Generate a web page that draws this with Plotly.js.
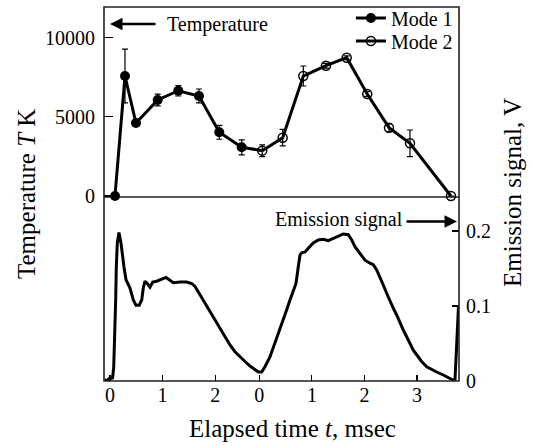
<!DOCTYPE html>
<html>
<head>
<meta charset="utf-8">
<script src="https://cdn.plot.ly/plotly-3.0.1.min.js"></script>
<style>html,body{margin:0;padding:0;background:#fff;}#chart{width:533px;height:445px;}</style>
</head>
<body>
<div id="chart"></div>
<script>
// ---- data ----
// time offset (ms) at which Mode 2 time axis restarts at 0
const mode2Offset = 2.838;

const xTickValsMode1 = [0, 1, 2];
const xTickValsMode2 = [0, 1, 2, 3];
const xTickText = ["0", "1", "2", "0", "1", "2", "3"];

const mode1Time = [0.095, 0.285, 0.494, 0.907, 1.298, 1.692, 2.078, 2.504];
const mode1Temp = [0, 7570, 4600, 6060, 6640, 6310, 4020, 3070];
const mode1Err  = [0, 1700, 0, 370, 330, 440, 440, 470];

const mode2Time = [0.057, 0.445, 0.837, 1.268, 1.662, 2.053, 2.466, 2.865, 3.644];
const mode2Temp = [2860, 3680, 7570, 8220, 8725, 6435, 4310, 3325, 0];
const mode2Err  = [370, 520, 630, 150, 120, 150, 250, 840, 0];

const emis1Time = [-0.105, -0.063, -0.019, 0.019, 0.048, 0.070, 0.095, 0.108, 0.120, 0.139, 0.171, 0.209, 0.266, 0.304, 0.380, 0.443, 0.494, 0.557, 0.603, 0.633, 0.665, 0.709, 0.760, 0.812, 0.888, 0.983, 1.065, 1.127, 1.203, 1.331, 1.458, 1.553, 1.616, 1.711, 1.806, 1.901, 1.996, 2.091, 2.186, 2.281, 2.376, 2.471, 2.567, 2.662, 2.757, 2.820];
const emis1Sig  = [0.002, 0.000, 0.003, 0.004, 0.004, 0.017, 0.064, 0.108, 0.152, 0.184, 0.198, 0.184, 0.152, 0.135, 0.124, 0.108, 0.101, 0.101, 0.108, 0.124, 0.133, 0.130, 0.125, 0.132, 0.133, 0.136, 0.138, 0.135, 0.131, 0.132, 0.132, 0.130, 0.126, 0.115, 0.104, 0.092, 0.081, 0.070, 0.059, 0.048, 0.039, 0.032, 0.026, 0.020, 0.015, 0.012];

const emis2Time = [0.046, 0.108, 0.203, 0.298, 0.394, 0.456, 0.521, 0.584, 0.646, 0.698, 0.741, 0.774, 0.806, 0.869, 0.932, 1.027, 1.122, 1.217, 1.312, 1.407, 1.502, 1.597, 1.692, 1.757, 1.819, 1.914, 2.010, 2.105, 2.167, 2.232, 2.294, 2.357, 2.422, 2.484, 2.547, 2.612, 2.675, 2.738, 2.802, 2.865, 2.928, 2.992, 3.087, 3.183, 3.278, 3.373, 3.498, 3.625, 3.720, 3.787];
const emis2Sig  = [0.012, 0.019, 0.032, 0.050, 0.069, 0.081, 0.095, 0.108, 0.119, 0.130, 0.152, 0.168, 0.171, 0.172, 0.177, 0.184, 0.188, 0.189, 0.187, 0.190, 0.194, 0.196, 0.195, 0.188, 0.179, 0.170, 0.161, 0.157, 0.155, 0.148, 0.139, 0.128, 0.117, 0.106, 0.097, 0.088, 0.077, 0.068, 0.059, 0.050, 0.041, 0.035, 0.026, 0.019, 0.015, 0.012, 0.008, 0.004, 0.000, 0.099];

const tempTicks = [0, 5000, 10000];
const emisTicks = [0, 0.1, 0.2];
const emisTickText = ["0", "0.1", "0.2"];

// ---- build ----
const shift = a => a.map(v => v + mode2Offset);
const FONT = "'Liberation Serif', 'Times New Roman', Times, serif";

const m2x = shift(mode2Time);
const emisX = emis1Time.concat(shift(emis2Time));
const emisY = emis1Sig.concat(emis2Sig);

const traces = [
  { // emission signal
    x: emisX, y: emisY, xaxis: "x", yaxis: "y2", mode: "lines",
    line: {color: "#000", width: 3}, showlegend: false, hoverinfo: "skip"
  },
  { // connector between modes
    x: [mode1Time[mode1Time.length - 1], m2x[0]],
    y: [mode1Temp[mode1Temp.length - 1], mode2Temp[0]],
    xaxis: "x", yaxis: "y", mode: "lines",
    line: {color: "#000", width: 3}, showlegend: false, hoverinfo: "skip"
  },
  {
    name: "Mode 1", legend: "legend", x: mode1Time, y: mode1Temp, xaxis: "x", yaxis: "y",
    mode: "lines+markers", cliponaxis: false,
    line: {color: "#000", width: 3},
    marker: {symbol: "circle", size: 10, color: "#000"},
    error_y: {type: "data", array: mode1Err, visible: true, color: "#000", thickness: 1.2, width: 3}
  },
  {
    name: "Mode 2", legend: "legend2", x: m2x, y: mode2Temp, xaxis: "x", yaxis: "y",
    mode: "lines+markers", cliponaxis: false,
    line: {color: "#000", width: 3},
    marker: {symbol: "circle-open", size: 9, color: "#000", line: {width: 1.5, color: "#000"}},
    error_y: {type: "data", array: mode2Err, visible: true, color: "#000", thickness: 1.2, width: 3}
  }
];

const tickVals = xTickValsMode1.concat(shift(xTickValsMode2));
const legendFont = {family: FONT, size: 20, color: "#000"};

const layout = {
  width: 533, height: 445,
  margin: {l: 104, r: 74, t: 7, b: 64, autoexpand: false},
  paper_bgcolor: "#fff", plot_bgcolor: "#fff",
  font: {family: FONT, size: 20, color: "#000"},
  showlegend: true,
  legend: {
    x: 0.997, xanchor: "right", y: 0.9706, yanchor: "middle",
    bgcolor: "rgba(0,0,0,0)", font: legendFont, itemwidth: 30
  },
  legend2: {
    x: 0.997, xanchor: "right", y: 0.9091, yanchor: "middle",
    bgcolor: "rgba(0,0,0,0)", font: legendFont, itemwidth: 30
  },
  xaxis: {
    domain: [0, 1], anchor: "y2", range: [-0.114, 6.635],
    tickvals: tickVals, ticktext: xTickText,
    ticks: "inside", ticklen: 6, tickwidth: 1.2, tickcolor: "#000",
    showgrid: false, zeroline: false, showline: false,
    tickfont: {family: FONT, size: 20}
  },
  yaxis: {
    domain: [0.492, 1], anchor: "x", range: [-63, 11924],
    tickvals: tempTicks, ticktext: tempTicks.map(String),
    ticks: "inside", ticklen: 9, tickwidth: 1.2, tickcolor: "#000",
    showgrid: false, zeroline: false, showline: false,
    tickfont: {family: FONT, size: 20}, ticklabelstandoff: 8
  },
  yaxis2: {
    domain: [0, 0.492], anchor: "x", side: "right", range: [0, 0.2453],
    tickvals: emisTicks, ticktext: emisTickText,
    ticks: "inside", ticklen: 7, tickwidth: 1.2, tickcolor: "#000",
    showgrid: false, zeroline: false, showline: false,
    tickfont: {family: FONT, size: 20}, ticklabelstandoff: 6
  },
  shapes: [
    {type: "rect", xref: "paper", yref: "paper", x0: 0, x1: 1, y0: 0, y1: 1,
     line: {color: "#222", width: 1.6}, layer: "above"},
    {type: "line", xref: "paper", yref: "paper", x0: 0, x1: 1, y0: 0.492, y1: 0.492,
     line: {color: "#222", width: 1.6}, layer: "below"}
  ],
  annotations: [
    {xref: "paper", yref: "paper", x: 0.0169, y: 0.9545, ax: 47, ay: 0, text: "",
     showarrow: true, arrowhead: 2, arrowsize: 1, arrowwidth: 2.5, arrowcolor: "#000"},
    {xref: "paper", yref: "paper", x: 0.1718, y: 0.9545, xanchor: "left", yanchor: "middle",
     text: "Temperature", showarrow: false, font: {family: FONT, size: 20}},
    {xref: "paper", yref: "paper", x: 0.9944, y: 0.4265, ax: -52, ay: 0, text: "",
     showarrow: true, arrowhead: 2, arrowsize: 1, arrowwidth: 2.5, arrowcolor: "#000"},
    {xref: "paper", yref: "paper", x: 0.476, y: 0.4305, xanchor: "left", yanchor: "middle",
     text: "Emission signal", showarrow: false, font: {family: FONT, size: 20}},
    {xref: "paper", yref: "paper", x: -0.2197, y: 0.5, xanchor: "center", yanchor: "middle",
     textangle: -90, text: "Temperature <i>T</i> K", showarrow: false, font: {family: FONT, size: 25}},
    {xref: "paper", yref: "paper", x: 1.149, y: 0.505, xanchor: "center", yanchor: "middle",
     textangle: -90, text: "Emission signal, V", showarrow: false, font: {family: FONT, size: 25}},
    {xref: "paper", yref: "paper", x: 0.5296, y: -0.1257, xanchor: "center", yanchor: "middle",
     text: "Elapsed time <i>t</i>, msec", showarrow: false, font: {family: FONT, size: 25}}
  ]
};

Plotly.newPlot("chart", traces, layout, {displayModeBar: false, staticPlot: true});
</script>
</body>
</html>
